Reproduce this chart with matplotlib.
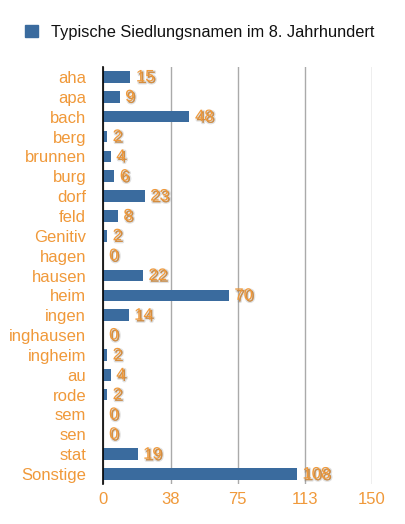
import matplotlib
matplotlib.use("Agg")
import matplotlib.pyplot as plt
import matplotlib.patheffects as pe
from matplotlib.patches import Patch

categories = ["aha", "apa", "bach", "berg", "brunnen", "burg", "dorf", "feld",
              "Genitiv", "hagen", "hausen", "heim", "ingen", "inghausen",
              "ingheim", "au", "rode", "sem", "sen", "stat", "Sonstige"]
values = [15, 9, 48, 2, 4, 6, 23, 8, 2, 0, 22, 70, 14, 0, 2, 4, 2, 0, 0, 19, 108]
xticks = [0, 37.5, 75, 112.5, 150]
xticklabels = ["0", "38", "75", "113", "150"]
series_name = "Typische Siedlungsnamen im 8. Jahrhundert"

plt.rcParams['font.family'] = ['Liberation Sans', 'DejaVu Sans']
orange = "#F0993A"
bar_color = "#3A6B9E"

fig = plt.figure(figsize=(4.05, 5.24), dpi=100)
ax = fig.add_axes([103.5/405, 1 - 484/524, (372-103.5)/405, (484-67)/524])

y = list(range(len(categories)))
ax.barh(y, values, height=0.58, color=bar_color, zorder=3)
ax.set_ylim(len(categories) - 0.5, -0.5)
ax.set_xlim(0, 150)
ax.set_xticks(xticks)
ax.set_xticklabels(xticklabels)
ax.set_yticks(y)
ax.set_yticklabels(categories)
ax.tick_params(axis='both', length=0, labelsize=12, colors=orange)
ax.tick_params(axis='y', pad=12.5)
ax.tick_params(axis='x', pad=6)
for s in ["top", "right", "bottom"]:
    ax.spines[s].set_visible(False)
ax.spines["left"].set_color("black")
ax.spines["left"].set_linewidth(1.2)
ax.spines["left"].set_zorder(4)
ax.grid(axis='x', color="#AAAAAA", linewidth=1, zorder=1)
ax.grid(axis='y', visible=False)

shadow = [pe.SimplePatchShadow(offset=(1.2, -1.2), shadow_rgbFace="#444444", alpha=0.35),
          pe.Stroke(linewidth=2.0, foreground=(0.35, 0.35, 0.35, 0.18), offset=(1.2, -1.2)),
          pe.Normal()]
for yi, v in zip(y, values):
    ax.annotate(str(v), (v, yi), xytext=(4, 0), textcoords="offset points",
                va="center", ha="left", fontsize=12, color=orange,
                path_effects=shadow, zorder=5)

fig.legend(handles=[Patch(color=bar_color)], labels=[series_name],
           loc="upper left", bbox_to_anchor=(10/405, 1 - 10/524), frameon=False,
           fontsize=11.8, handlelength=0.8, handleheight=0.8, handletextpad=0.8,
           labelcolor="#111111")

fig.savefig("out.png", dpi=100)
